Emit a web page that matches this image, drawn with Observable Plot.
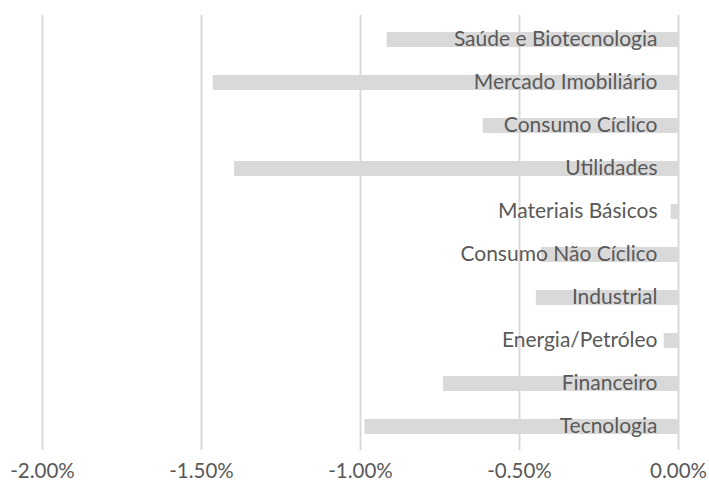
<!DOCTYPE html>
<html>
<head>
<meta charset="utf-8">
<script src="https://cdn.jsdelivr.net/npm/d3@7"></script>
<script src="https://cdn.jsdelivr.net/npm/@observablehq/plot@0.6"></script>
<style>
  html, body { margin: 0; padding: 0; background: #fff; }
  #chart { width: 709px; height: 492px; }
</style>
</head>
<body>
<div id="chart"></div>
<script>
const sectors = [
  "Saúde e Biotecnologia",
  "Mercado Imobiliário",
  "Consumo Cíclico",
  "Utilidades",
  "Materiais Básicos",
  "Consumo Não Cíclico",
  "Industrial",
  "Energia/Petróleo",
  "Financeiro",
  "Tecnologia"
];
const values = [-0.916, -1.463, -0.614, -1.396, -0.023, -0.431, -0.447, -0.045, -0.739, -0.986];
const xTicks = [-2.0, -1.5, -1.0, -0.5, 0.0];

const data = sectors.map((s, i) => ({sector: s, value: values[i]}));

const chart = Plot.plot({
  width: 709,
  height: 492,
  marginTop: 15,
  marginBottom: 42,
  marginLeft: 42,
  marginRight: 31,
  style: {fontFamily: "Lato, sans-serif", background: "#fff"},
  x: {domain: [-2, 0], ticks: xTicks, label: null},
  y: {domain: sectors, paddingInner: 0.656, paddingOuter: 0.328, axis: null},
  marks: [
    Plot.ruleX(xTicks, {stroke: "#d9d9d9", strokeWidth: 2}),
    Plot.barX(data, {x1: 0, x2: "value", y: "sector", fill: "#d9d9d9"}),
    Plot.text(data, {x: 0, y: "sector", text: "sector", textAnchor: "end", dx: -21, dy: -1, fill: "#595959", fontSize: 21}),
    Plot.axisX({ticks: xTicks, tickSize: 0, tickPadding: 13, fontSize: 20.5, fill: "#595959",
      tickFormat: d => d.toFixed(2) + "%"})
  ]
});
document.getElementById("chart").appendChild(chart);
</script>
</body>
</html>
